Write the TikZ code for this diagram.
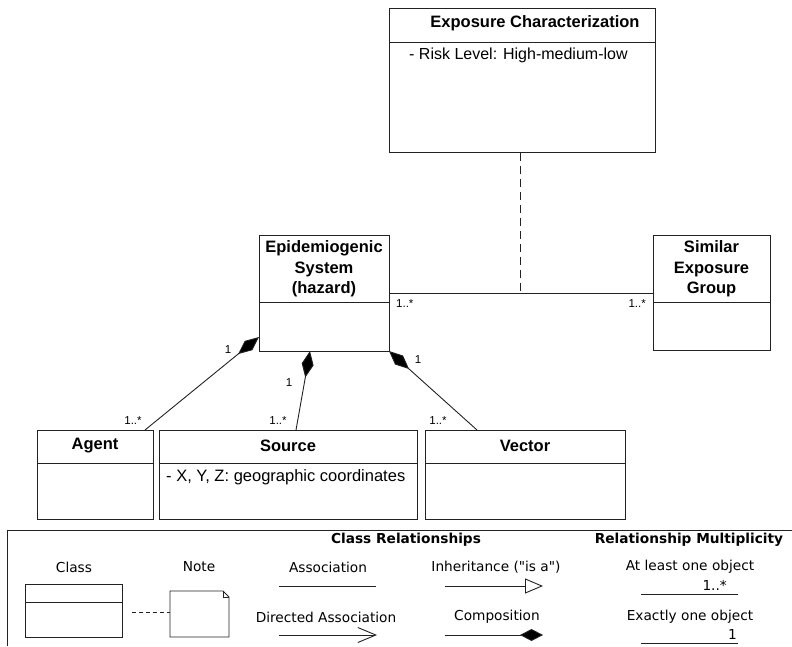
\documentclass[tikz,border=0pt]{standalone}
\usepackage{fontspec}
\setmainfont{Liberation Sans}
\newfontfamily\legendfont{DejaVu Sans}
\usetikzlibrary{arrows.meta,calc}
\definecolor{ink}{HTML}{222222}
\tikzset{
  line/.style={draw=ink, line width=0.9pt},
  classbox/.style={line, rectangle, inner sep=0pt, anchor=north west},
  hdr/.style={font=\fontsize{16.5}{20.5}\selectfont\bfseries, align=center, inner sep=0pt, text=black},
  attr/.style={font=\fontsize{16.5}{20}\selectfont, anchor=west, inner sep=0pt, text=black},
  mult/.style={font=\fontsize{11.5}{13}\selectfont, inner sep=0pt, text=black},
  comp/.style={line, -{Diamond[length=27pt,width=12pt,fill=black]}},
  lgd/.style={font=\legendfont\fontsize{13.7}{16}\selectfont, inner sep=0pt, text=black},
  lgdb/.style={font=\legendfont\fontsize{13.7}{16}\selectfont\bfseries, inner sep=0pt, text=black},
}
\begin{document}
\begin{tikzpicture}[x=1pt,y=-1pt]
\useasboundingbox (0,0) rectangle (792,646);

% Exposure Characterization
\node[classbox, minimum width=266pt, minimum height=144pt] (exp) at (389,8) {};
\draw[line] (exp.west |- 0,42) -- (exp.east |- 0,42);
\node[hdr] (exp-t) at (535,23) {Exposure Characterization};
\node[attr, font=\fontsize{16}{20}\selectfont] (exp-a) at (409,55) {- Risk Level: High-medium-low};

% Epidemiogenic System
\node[classbox, minimum width=130pt, minimum height=116pt] (epi) at (259,235) {};
\draw[line] (epi.west |- 0,302) -- (epi.east |- 0,302);
\node[hdr] (epi-t) at (324,269) {Epidemiogenic\\System\\(hazard)};

% Similar Exposure Group
\node[classbox, minimum width=117pt, minimum height=115pt] (seg) at (653,235) {};
\draw[line] (seg.west |- 0,302) -- (seg.east |- 0,302);
\node[hdr] (seg-t) at (711.5,269) {Similar\\Exposure\\Group};

% Agent, Source, Vector
\node[classbox, minimum width=116pt, minimum height=89pt] (agent) at (37,430) {};
\draw[line] (agent.west |- 0,463) -- (agent.east |- 0,463);
\node[hdr] (agent-t) at (95,446) {Agent};

\node[classbox, minimum width=258pt, minimum height=89pt] (src) at (159,430) {};
\draw[line] (src.west |- 0,463) -- (src.east |- 0,463);
\node[hdr] (src-t) at (288,446) {Source};
\node[attr] (src-a) at (166,477) {- X, Y, Z: geographic coordinates};

\node[classbox, minimum width=200pt, minimum height=89pt] (vec) at (425,430) {};
\draw[line] (vec.west |- 0,463) -- (vec.east |- 0,463);
\node[hdr] (vec-t) at (525,446) {Vector};

% association between system and exposure group, with note link
\draw[line] (epi.east |- 0,293) -- (seg.west |- 0,293);
\coordinate (assoc-mid) at (520,293);
\draw[line, dash pattern=on 8pt off 5pt] (exp.south -| assoc-mid) -- (assoc-mid);
\node[mult, anchor=west] (m1) at (396,304) {1..*};
\node[mult, anchor=east] (m2) at (646,304) {1..*};

% composition connectors
\coordinate (agent-c) at (145,430);
\coordinate (epi-ca) at (259,337);
\draw[comp] (agent-c) -- (epi-ca);
\node[mult] (a1) at (228,350) {1};
\node[mult] (a2) at (133,421) {1..*};

\coordinate (src-c) at (296,430);
\coordinate (epi-cs) at (310,351);
\draw[comp] (src-c) -- (epi-cs);
\node[mult] (s1) at (289,383) {1};
\node[mult] (s2) at (278,421) {1..*};

\coordinate (vec-c) at (477,430);
\coordinate (epi-cv) at (389,351);
\draw[comp] (vec-c) -- (epi-cv);
\node[mult] (v1) at (418,360) {1};
\node[mult] (v2) at (438,421) {1..*};

% legend frame
\coordinate (lg-tl) at (7,530);
\draw[line] (lg-tl |- 0,646) -- (lg-tl) -- (792,530);

\node[lgdb] (lg-h1) at (406,540) {Class Relationships};
\node[lgdb] (lg-h2) at (689,540) {Relationship Multiplicity};

\node[lgd] (lg-class) at (74,567) {Class};
\node[classbox, minimum width=97pt, minimum height=53pt] (lg-box) at (25,584) {};
\draw[line] (lg-box.west |- 0,602) -- (lg-box.east |- 0,602);

\node[lgd] (lg-note) at (199,567) {Note};
\draw[line] (170,591) -- (223,591) -- (229,597) -- (229,637) -- (170,637) -- cycle;
\draw[line, line width=0.6pt] (223,591) -- (223,597) -- (229,597);
\coordinate (lg-boxr) at (122,612);
\coordinate (lg-notel) at (170,612);
\draw[line, dash pattern=on 4pt off 3pt] (lg-boxr) ++(10,0) -- (lg-notel);

\node[lgd] (lg-assoc) at (328,567) {Association};
\coordinate (as-a) at (279,586); \coordinate (as-b) at (376,586);
\draw[line] (as-a) -- (as-b);

\node[lgd] (lg-dir) at (326,617) {Directed Association};
\coordinate (da-a) at (279,635); \coordinate (da-b) at (377,635);
\draw[line, -{Straight Barb[length=18pt,width=15pt]}] (da-a) -- (da-b);

\node[lgd] (lg-inh) at (496,567) {Inheritance ("is a")};
\coordinate (ih-a) at (445,586); \coordinate (ih-b) at (543,586);
\draw[line, -{Triangle[open,length=18pt,width=15pt]}] (ih-a) -- (ih-b);

\node[lgd] (lg-comp) at (497,617) {Composition};
\coordinate (cp-a) at (445,635); \coordinate (cp-b) at (543,635);
\draw[line, -{Diamond[length=23pt,width=12pt,fill=black]}] (cp-a) -- (cp-b);

\node[lgd] (lg-m1) at (690,567) {At least one object};
\coordinate (ml-a) at (641,594); \coordinate (ml-b) at (738,594);
\draw[line] (ml-a) -- (ml-b);
\node[lgd, anchor=south east] (lg-m1v) at (727,591) {1..*};

\node[lgd] (lg-m2) at (690,617) {Exactly one object};
\coordinate (me-a) at (641,643); \coordinate (me-b) at (738,643);
\draw[line] (me-a) -- (me-b);
\node[lgd, anchor=south east] (lg-m2v) at (737,640) {1};
\end{tikzpicture}
\end{document}
